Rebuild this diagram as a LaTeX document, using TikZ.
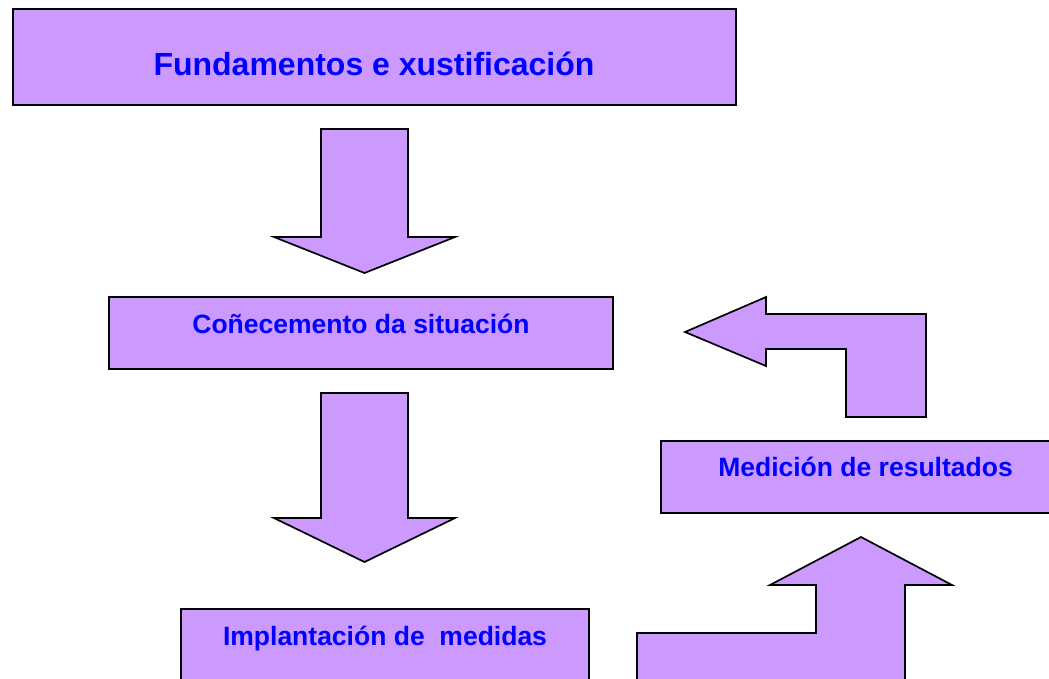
\documentclass[tikz,border=0pt]{standalone}
\usepackage{fontspec}
\setmainfont{Liberation Sans}
\definecolor{sLilac}{HTML}{CC99FF}
\definecolor{sBlue}{HTML}{0000FF}

\begin{document}
\begin{tikzpicture}[x=1pt,y=-1pt]
		\tikzstyle{BOX} = [draw=black, line width=1.7pt, fill=sLilac, inner sep=0pt]
		\tikzstyle{stage} = [BOX, rectangle]
		\tikzstyle{txt} = [text=sBlue, font=\bfseries\fontsize{26.5}{30}\selectfont, anchor=base, inner sep=0pt]
		\tikzstyle{headline} = [txt, font=\bfseries\fontsize{32}{36}\selectfont]
		\tikzstyle{blockarrow} = [draw=black, line width=1.7pt, fill=sLilac, line join=miter]

		\useasboundingbox (0,0) rectangle (1049,678);
		\clip (0,0) rectangle (1049,678);

		% boxes
		\node[stage, minimum width=723pt, minimum height=96pt] (fund) at (374.5,57) {};
		\node[headline] (fundT) at (374,75) {Fundamentos e xustificación};

		\node[stage, minimum width=504pt, minimum height=72pt] (know) at (361,333) {};
		\node[txt] (knowT) at (361,333) {Coñecemento da situación};

		\node[stage, minimum width=408pt, minimum height=81pt] (impl) at (385,649.5) {};
		\node[txt] (implT) at (385,645) {Implantación de\ \ medidas};

		\node[stage, minimum width=409pt, minimum height=72pt] (meas) at (865.5,477) {};
		\node[txt] (measT) at (865.5,476) {Medición de resultados};

		% block arrows
		\draw[blockarrow] (321,129) -- (408,129) -- (408,237) -- (455,237) -- (364.5,273)
			-- (274,237) -- (321,237) -- cycle;
		\draw[blockarrow] (321,393) -- (408,393) -- (408,518) -- (455,518) -- (364.5,562)
			-- (274,518) -- (321,518) -- cycle;
		\draw[blockarrow] (637,690) -- (637,633) -- (816,633) -- (816,585) -- (770,585)
			-- (861,537) -- (952,585) -- (905,585) -- (905,690) -- cycle;
		\draw[blockarrow] (685,332) -- (766,297) -- (766,314) -- (926,314) -- (926,417)
			-- (846,417) -- (846,349) -- (766,349) -- (766,366) -- cycle;
\end{tikzpicture}
\end{document}
